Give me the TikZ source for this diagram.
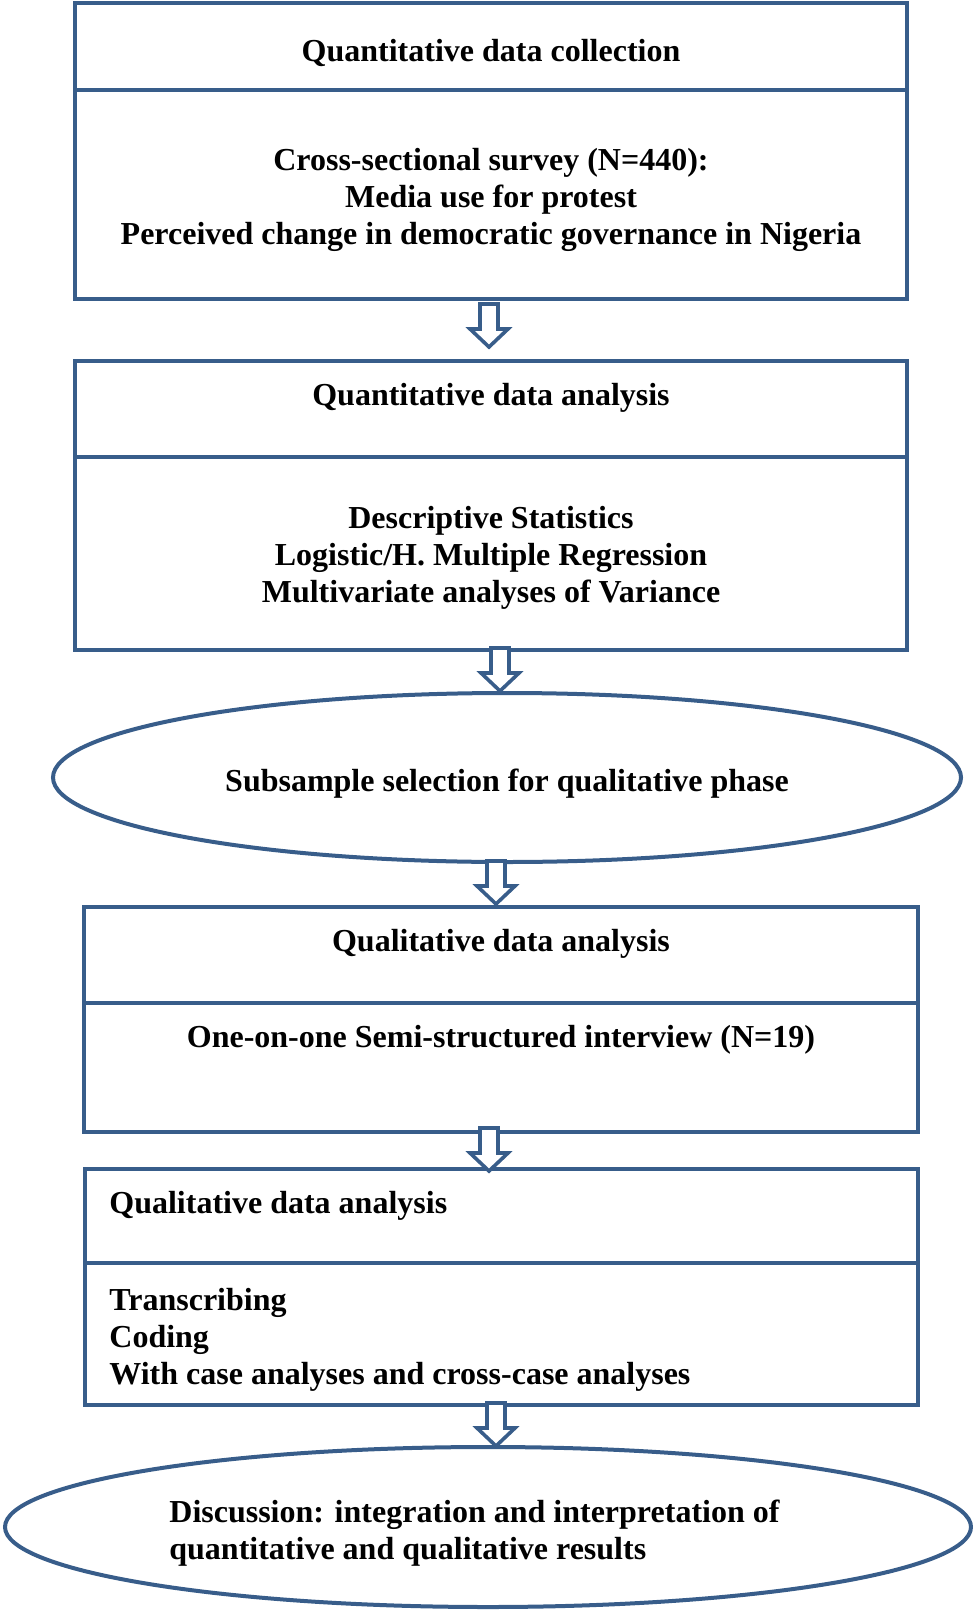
\documentclass[tikz,border=0pt]{standalone}
\usepackage{fontspec}
\setmainfont{Liberation Serif}
\usepackage{tikz}
\usetikzlibrary{shapes.geometric,positioning,calc}
\definecolor{flowBlue}{HTML}{385D8A}

% hollow block arrow pointing down, top centre at (#1,#2)
\newcommand{\blockarrow}[2]{%
  \draw[hollow] (#1-9,#2) -- (#1+9,#2) -- (#1+9,#2+25) -- (#1+19,#2+25)
    -- (#1,#2+43) -- (#1-19,#2+25) -- (#1-9,#2+25) -- cycle;}

\begin{document}
\begin{tikzpicture}[
    x=0.5pt, y=-0.5pt,
    font=\fontsize{16}{18.6}\selectfont\bfseries,
    part/.style={draw=flowBlue, line width=2pt, rectangle, outer sep=0pt, inner sep=0pt},
    oval/.style={draw=flowBlue, line width=2pt, ellipse, inner sep=0pt},
    txt/.style={inner sep=0pt, align=center},
    ltxt/.style={inner sep=0pt, align=left, anchor=west},
    hollow/.style={draw=flowBlue, fill=white, line width=1.8pt, line join=miter}
]
    \useasboundingbox (0,0) rectangle (973,1610);

    % Quantitative data collection
    \node[part, minimum width=416pt, minimum height=43.5pt] (qc_head) at (491,46.5) {};
    \node[part, minimum width=416pt, minimum height=104.5pt, below=0pt of qc_head] (qc_body) {};
    \node[txt] (qc_title) at (491,53) {Quantitative data collection};
    \node[txt] (qc_text) at (491,200) {Cross-sectional survey (N=440):\\Media use for protest\\Perceived change in democratic governance in Nigeria};

    % Quantitative data analysis
    \node[part, minimum width=416pt, minimum height=48pt] (qa_head) at (491,409) {};
    \node[part, minimum width=416pt, minimum height=96.5pt, below=0pt of qa_head] (qa_body) {};
    \node[txt] (qa_title) at (491,398) {Quantitative data analysis};
    \node[txt] (qa_text) at (491,558) {Descriptive Statistics\\Logistic/H. Multiple Regression\\Multivariate analyses of Variance};

    % Subsample selection
    \node[oval, minimum width=454pt, minimum height=84.5pt] (sub) at (507,777.5) {};
    \node[txt] (sub_text) at (507,784) {Subsample selection for qualitative phase};

    % Qualitative data analysis (interview)
    \node[part, minimum width=417pt, minimum height=48pt] (ql_head) at (501,955) {};
    \node[part, minimum width=417pt, minimum height=64.5pt, below=0pt of ql_head] (ql_body) {};
    \node[txt] (ql_title) at (501,944) {Qualitative data analysis};
    \node[txt] (ql_text) at (501,1040) {One-on-one Semi-structured interview (N=19)};

    % Qualitative data analysis (coding)
    \node[part, minimum width=416.5pt, minimum height=47pt] (qd_head) at (501.5,1216) {};
    \node[part, minimum width=416.5pt, minimum height=71pt, below=0pt of qd_head] (qd_body) {};
    \node[ltxt] (qd_title) at (109,1206) {Qualitative data analysis};
    \node[ltxt] (qd_text) at (109,1340) {Transcribing\\Coding\\With case analyses and cross-case analyses};

    % Discussion
    \node[oval, minimum width=483pt, minimum height=80pt] (disc) at (488,1527) {};
    \node[ltxt] (disc_text) at (169,1533) {Discussion: integration and interpretation of\\quantitative and qualitative results};

    % Arrows
    \blockarrow{489}{304}
    \blockarrow{500}{648}
    \blockarrow{496}{861}
    \blockarrow{489}{1128}
    \blockarrow{496}{1403}
\end{tikzpicture}
\end{document}
